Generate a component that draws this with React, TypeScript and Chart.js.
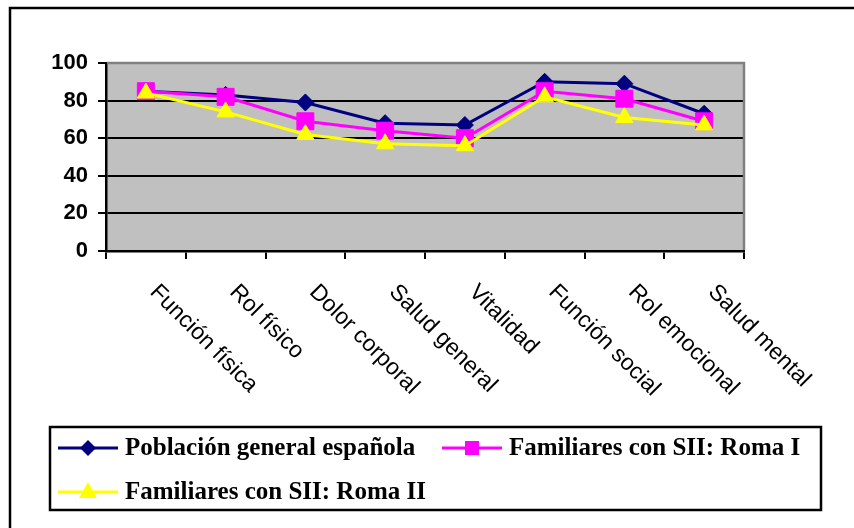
import React, { useEffect, useRef } from "react";
import { Chart, registerables } from "chart.js";

Chart.register(...registerables);

const categories = [
  "Función física",
  "Rol físico",
  "Dolor corporal",
  "Salud general",
  "Vitalidad",
  "Función social",
  "Rol emocional",
  "Salud mental",
];

const poblacionGeneral = [85, 83, 79, 68, 67, 90, 89, 73];
const familiaresRomaI = [85, 82, 69, 64, 60, 85, 81, 69];
const familiaresRomaII = [84, 74, 62, 57, 56, 82, 71, 67];

const seriesNames = [
  "Población general española",
  "Familiares con SII: Roma I",
  "Familiares con SII: Roma II",
];

const yMin = 0;
const yMax = 100;
const yStep = 20;

function drawMarker(ctx: CanvasRenderingContext2D, style: string, x: number, y: number, r: number, color: string) {
  ctx.save();
  ctx.fillStyle = color;
  ctx.beginPath();
  if (style === "rectRot") {
    ctx.moveTo(x - r, y);
    ctx.lineTo(x, y - r);
    ctx.lineTo(x + r, y);
    ctx.lineTo(x, y + r);
  } else if (style === "rect") {
    ctx.rect(x - r, y - r, 2 * r, 2 * r);
  } else {
    ctx.moveTo(x, y - r);
    ctx.lineTo(x + r * 0.9, y + r * 0.6);
    ctx.lineTo(x - r * 0.9, y + r * 0.6);
  }
  ctx.closePath();
  ctx.fill();
  ctx.restore();
}

const framePlugin = {
  id: "frame",
  beforeDraw(chart: any) {
    const ctx = chart.ctx;
    const { left, top, right, bottom } = chart.chartArea;
    ctx.save();
    ctx.fillStyle = "#ffffff";
    ctx.fillRect(0, 0, chart.width, chart.height);
    ctx.strokeStyle = "#000000";
    ctx.lineWidth = 2.5;
    ctx.strokeRect(10, 8, chart.width + 40, chart.height + 40);
    ctx.fillStyle = "#C0C0C0";
    ctx.fillRect(left, top, right - left, bottom - top);
    ctx.restore();
  },
  beforeDatasetsDraw(chart: any) {
    const ctx = chart.ctx;
    const { left, top, right, bottom } = chart.chartArea;
    ctx.save();
    ctx.strokeStyle = "#808080";
    ctx.lineWidth = 2.5;
    ctx.beginPath();
    ctx.moveTo(left + 1, top);
    ctx.lineTo(right, top);
    ctx.lineTo(right, bottom - 1);
    ctx.stroke();
    ctx.restore();
  },
  afterDraw(chart: any) {
    const ctx = chart.ctx;
    const xs = chart.scales.x;
    // rotated category labels
    ctx.save();
    ctx.fillStyle = "#000000";
    ctx.font = "23px 'Liberation Sans', Arial, sans-serif";
    ctx.textAlign = "left";
    ctx.textBaseline = "alphabetic";
    (chart.data.labels as string[]).forEach((lab, i) => {
      const x = xs.getPixelForValue(i);
      ctx.save();
      ctx.translate(x + 3, 293);
      ctx.rotate(Math.PI / 4);
      ctx.fillText(lab, 0, 0);
      ctx.restore();
    });
    ctx.restore();

    // legend
    ctx.save();
    ctx.strokeStyle = "#000000";
    ctx.lineWidth = 2.5;
    ctx.strokeRect(50, 427, 771, 83);
    const slots = [
      { x: 58, y: 448, r: 8 },
      { x: 442, y: 448, r: 7 },
      { x: 58, y: 492, r: 10 },
    ];
    ctx.font = "bold 25px 'Liberation Serif', 'Times New Roman', serif";
    ctx.textBaseline = "middle";
    ctx.textAlign = "left";
    chart.data.datasets.forEach((ds: any, i: number) => {
      const s = slots[i];
      ctx.strokeStyle = ds.borderColor;
      ctx.lineWidth = 3;
      ctx.beginPath();
      ctx.moveTo(s.x, s.y);
      ctx.lineTo(s.x + 60, s.y);
      ctx.stroke();
      drawMarker(ctx, ds.pointStyle, s.x + 30, s.y, s.r, ds.borderColor);
      ctx.fillStyle = "#000000";
      ctx.fillText(ds.label, s.x + 67, s.y + 1);
    });
    ctx.restore();
  },
};

export default function App() {
  const ref = useRef<HTMLCanvasElement | null>(null);

  useEffect(() => {
    if (!ref.current) return;
    const chart = new Chart(ref.current, {
      type: "line",
      data: {
        labels: categories,
        datasets: [
          {
            label: seriesNames[0],
            data: poblacionGeneral,
            borderColor: "#000080",
            backgroundColor: "#000080",
            borderWidth: 3,
            pointStyle: "rectRot",
            pointRadius: 8.5,
            pointBorderWidth: 1,
            order: 3,
          },
          {
            label: seriesNames[1],
            data: familiaresRomaI,
            borderColor: "#FF00FF",
            backgroundColor: "#FF00FF",
            borderWidth: 3,
            pointStyle: "rect",
            pointRadius: 12,
            pointBorderWidth: 1,
            order: 2,
          },
          {
            label: seriesNames[2],
            data: familiaresRomaII,
            borderColor: "#FFFF00",
            backgroundColor: "#FFFF00",
            borderWidth: 3,
            pointStyle: "triangle",
            pointRadius: 10,
            pointBorderWidth: 1,
            order: 1,
          },
        ],
      },
      options: {
        responsive: false,
        animation: false,
        devicePixelRatio: 1,
        layout: { padding: { top: 63, left: 0, right: 110, bottom: 0 } },
        plugins: {
          legend: { display: false },
          tooltip: { enabled: false },
          title: { display: false },
        },
        elements: { line: { tension: 0 } },
        scales: {
          x: {
            type: "category",
            offset: true,
            grid: {
              display: true,
              drawOnChartArea: false,
              drawTicks: true,
              tickLength: 8,
              offset: true,
              color: "#000000",
              lineWidth: 2,
            },
            border: { display: true, color: "#000000", width: 2.5 },
            ticks: { display: false },
            afterFit: (scale: any) => {
              scale.height = 277;
            },
          },
          y: {
            min: yMin,
            max: yMax,
            grid: { color: "#000000", lineWidth: 2, tickLength: 8 },
            border: { display: true, color: "#000000", width: 2.5 },
            ticks: {
              stepSize: yStep,
              color: "#000000",
              padding: 10,
              font: { family: "'Liberation Sans', Arial, sans-serif", size: 22, weight: "bold" },
            },
            afterFit: (scale: any) => {
              scale.width = 106;
            },
          },
        },
      },
      plugins: [framePlugin],
    });
    return () => chart.destroy();
  }, []);

  return (
    <div style={{ position: "absolute", left: 0, top: 0, width: 854, height: 528 }}>
      <canvas ref={ref} width={854} height={528} style={{ display: "block", width: 854, height: 528 }} />
    </div>
  );
}
